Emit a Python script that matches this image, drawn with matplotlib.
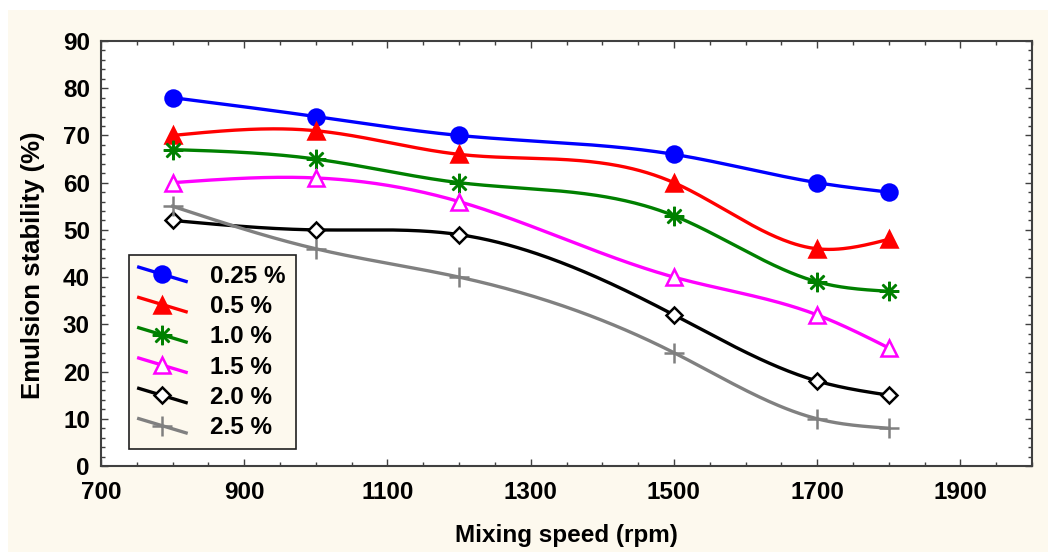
import numpy as np
import matplotlib
matplotlib.use("Agg")
import matplotlib.pyplot as plt
from matplotlib.lines import Line2D
from matplotlib.patches import Rectangle
from matplotlib.legend_handler import HandlerLine2D
from matplotlib.ticker import MultipleLocator

# data
speed = [800, 1000, 1200, 1500, 1700, 1800]
labels = ["0.25 %", "0.5 %", "1.0 %", "1.5 %", "2.0 %", "2.5 %"]
s025 = [78, 74, 70, 66, 60, 58]
s05 = [70, 71, 66, 60, 46, 48]
s10 = [67, 65, 60, 53, 39, 37]
s15 = [60, 61, 56, 40, 32, 25]
s20 = [52, 50, 49, 32, 18, 15]
s25 = [55, 46, 40, 24, 10, 8]
series = [s025, s05, s10, s15, s20, s25]

# styles: color, marker, markerfacecolor, markersize
styles = [
    ("#0000ff", "o", "#0000ff", 11.5),
    ("#ff0000", "^", "#ff0000", 11.5),
    ("#008000", (8, 2, 0), "#008000", 14),
    ("#ff00ff", "^", "white", 11.5),
    ("#000000", "D", "white", 8.5),
    ("#808080", "+", "#808080", 15),
]

CREAM = "#fdf9ee"


def natural_spline(x, y, xs):
    """Natural cubic spline through (x, y), evaluated at xs"""
    x = np.asarray(x, float)
    y = np.asarray(y, float)
    n = len(x)
    h = np.diff(x)
    A = np.zeros((n, n))
    b = np.zeros(n)
    A[0, 0] = A[-1, -1] = 1
    for i in range(1, n - 1):
        A[i, i - 1] = h[i - 1]
        A[i, i] = 2 * (h[i - 1] + h[i])
        A[i, i + 1] = h[i]
        b[i] = 3 * ((y[i + 1] - y[i]) / h[i] - (y[i] - y[i - 1]) / h[i - 1])
    c = np.linalg.solve(A, b)
    bb = (y[1:] - y[:-1]) / h - h * (2 * c[:-1] + c[1:]) / 3
    d = (c[1:] - c[:-1]) / (3 * h)
    idx = np.clip(np.searchsorted(x, xs) - 1, 0, n - 2)
    dx = xs - x[idx]
    return y[idx] + bb[idx] * dx + c[idx] * dx ** 2 + d[idx] * dx ** 3


class SlopedHandler(HandlerLine2D):
    """Legend key drawn as a line sloping down with the marker in the middle"""

    def create_artists(self, legend, orig_handle, xdescent, ydescent,
                       width, height, fontsize, trans):
        x0, x1 = -xdescent, -xdescent + width
        ymid = -ydescent + height / 2
        dy = height * 0.42
        line = Line2D([x0, x1], [ymid + dy, ymid - dy])
        self.update_prop(line, orig_handle, legend)
        line.set_marker("None")
        mark = Line2D([(x0 + x1) / 2], [ymid])
        self.update_prop(mark, orig_handle, legend)
        mark.set_linestyle("None")
        line.set_transform(trans)
        mark.set_transform(trans)
        return [line, mark]


plt.rcParams["font.family"] = ["Liberation Sans", "DejaVu Sans"]
plt.rcParams["font.weight"] = "bold"

fig = plt.figure(figsize=(10.48, 5.52), dpi=100)
fig.patch.set_facecolor("white")
fig.patches.append(Rectangle((8 / 1048, 0), 1 - 8 / 1048, 1 - 10 / 552,
                             transform=fig.transFigure, facecolor=CREAM,
                             edgecolor="none", zorder=-10))

ax = fig.add_axes([101 / 1048, 1 - 466 / 552, 931 / 1048, 425 / 552])
ax.set_facecolor("white")

xs = np.linspace(speed[0], speed[-1], 300)
handles = []
for ys, lab, (col, mk, mfc, ms) in zip(series, labels, styles):
    ax.plot(xs, natural_spline(speed, ys, xs), color=col, lw=2.4, zorder=2)
    ax.plot(speed, ys, ls="none", marker=mk, color=col, mfc=mfc, mec=col,
            ms=ms, mew=1.8, zorder=3)
    handles.append(Line2D([], [], color=col, lw=2.4, marker=mk, mfc=mfc,
                          mec=col, ms=ms, mew=1.8, label=lab))

ax.set_xlim(700, 2000)
ax.set_ylim(0, 90)
ax.set_xticks([700, 900, 1100, 1300, 1500, 1700, 1900])
ax.xaxis.set_minor_locator(MultipleLocator(50))
ax.yaxis.set_major_locator(MultipleLocator(10))
ax.yaxis.set_minor_locator(MultipleLocator(2))
ax.tick_params(which="both", direction="in", top=True, right=True,
               color="#404040", labelsize=17.5, width=1)
ax.tick_params(which="major", length=5)
ax.tick_params(which="minor", length=3)
ax.tick_params(axis="x", which="major", pad=11)
ax.tick_params(axis="y", which="major", pad=8)
for lab in ax.get_xticklabels() + ax.get_yticklabels():
    lab.set_fontweight("bold")
for sp in ax.spines.values():
    sp.set_color("#404040")
    sp.set_linewidth(1.5)

ax.set_xlabel("Mixing speed (rpm)", fontsize=17.5, fontweight="bold", labelpad=14)
ax.set_ylabel("Emulsion stability (%)", fontsize=18.5, fontweight="bold")
ax.yaxis.set_label_coords(-56 / 931, 0.473)

leg = ax.legend(handles=handles, loc="lower left",
                bbox_to_anchor=(28 / 931, 17 / 425), borderaxespad=0,
                handler_map={Line2D: SlopedHandler()},
                prop={"size": 17.5, "weight": "bold"}, frameon=True,
                fancybox=False, edgecolor="#202020", facecolor=CREAM,
                framealpha=1, handlelength=1.95, handletextpad=1.0,
                labelspacing=0.3, borderpad=0.4)
leg.get_frame().set_linewidth(1.2)

fig.savefig("out.png", dpi=100, facecolor=fig.get_facecolor())
